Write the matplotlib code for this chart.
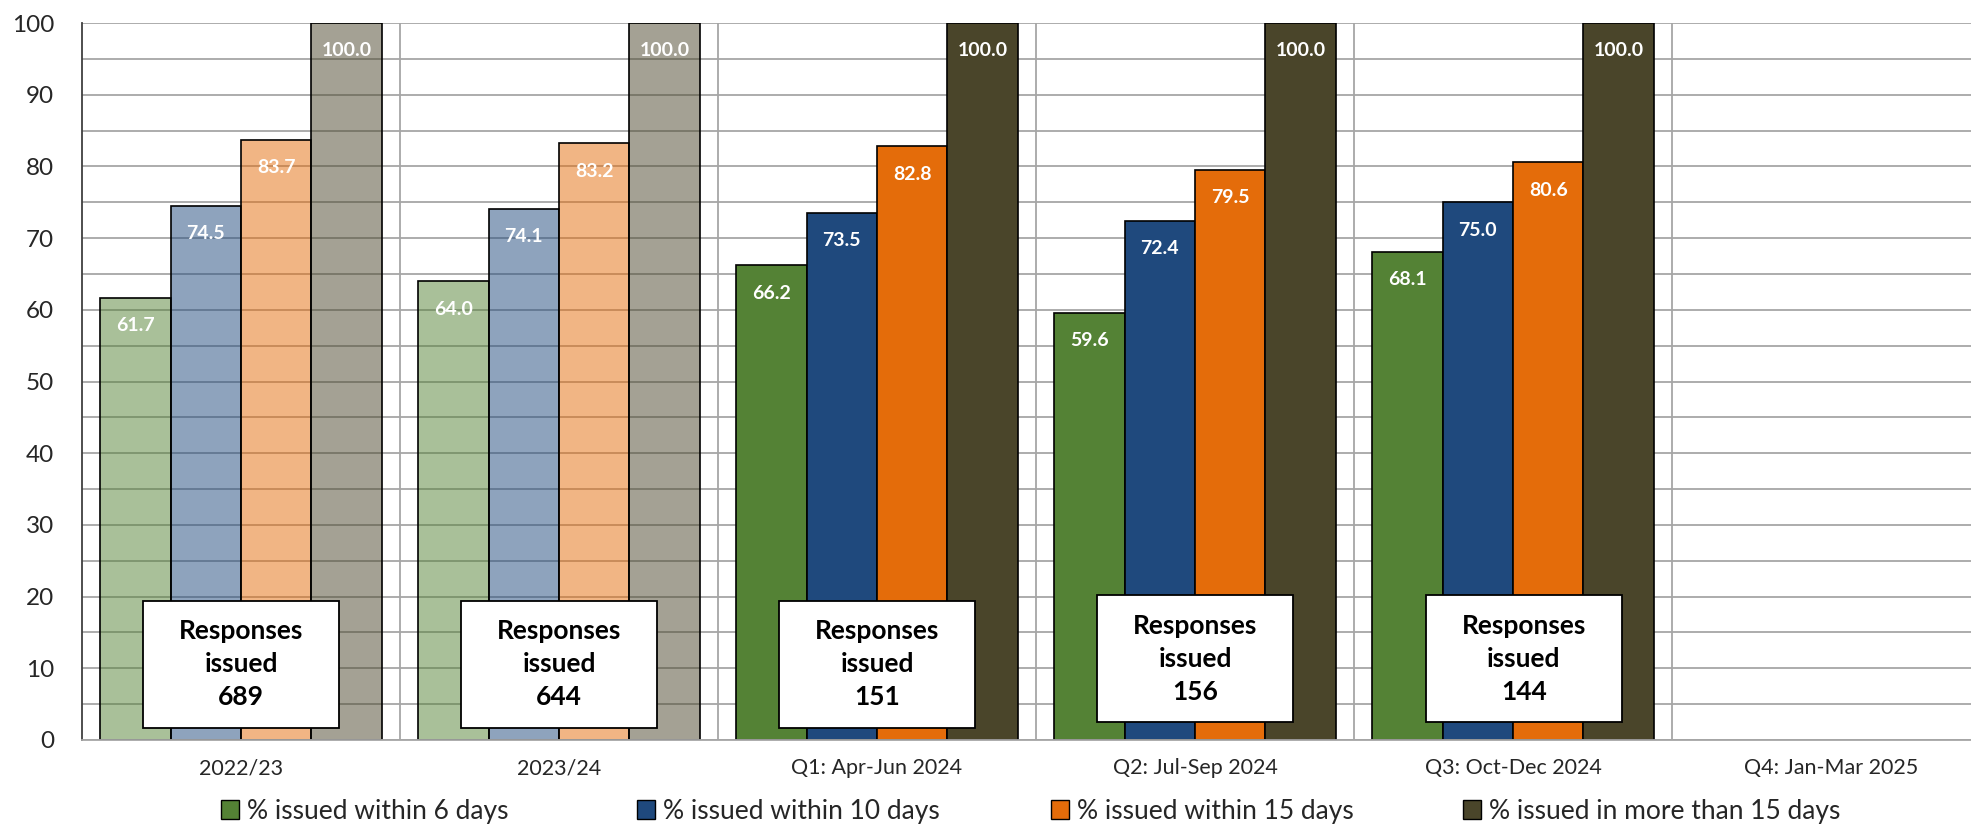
import numpy as np
import matplotlib
matplotlib.use("Agg")
import matplotlib.pyplot as plt
from matplotlib.patches import Rectangle, Patch
from matplotlib.colors import to_rgba

plt.rcParams['font.family'] = ['Lato', 'DejaVu Sans']

# data
categories = ['2022/23', '2023/24', 'Q1: Apr-Jun 2024', 'Q2: Jul-Sep 2024',
              'Q3: Oct-Dec 2024', 'Q4: Jan-Mar 2025']
series_names = ['% issued within 6 days', '% issued within 10 days',
                '% issued within 15 days', '% issued in more than 15 days']
within_6 = [61.7, 64.0, 66.2, 59.6, 68.1]
within_10 = [74.5, 74.1, 73.5, 72.4, 75.0]
within_15 = [83.7, 83.2, 82.8, 79.5, 80.6]
more_15 = [100.0, 100.0, 100.0, 100.0, 100.0]
responses = [689, 644, 151, 156, 144]
# full-year columns are drawn faded
faded = [True, True, False, False, False]

colors = ['#548235', '#1F497D', '#E46C0A', '#4A452A']

# layout of the "Responses issued" boxes (data units)
box_bottom = [1.7, 1.7, 1.7, 2.5, 2.5]
box_height = 17.7
box_width = 0.615
box_dx = [0, 0, 0, 0, 0.034]
# left edge of each legend entry, in figure pixels
legend_x = [221, 637, 1051, 1463]

W, H = 1971, 826
fig = plt.figure(figsize=(W / 100, H / 100), dpi=100)
ax = fig.add_axes([82 / W, 86 / H, 1908 / W, 717 / H])

series = [within_6, within_10, within_15, more_15]
bar_w = 0.221
x = np.arange(len(responses))
for k, vals in enumerate(series):
    xs = x + (k - 1.5) * bar_w
    for i, v in enumerate(vals):
        fc = to_rgba(colors[k], 0.5 if faded[i] else 1.0)
        ax.bar(xs[i], v, width=bar_w, facecolor=fc, edgecolor='black',
               linewidth=1.2, zorder=2)
        ax.text(xs[i], v - 3.9, f'{v:.1f}', ha='center', va='center',
                color='white', fontsize=14, fontweight='bold', zorder=3)

for i, n in enumerate(responses):
    cx = x[i] + box_dx[i]
    ax.add_patch(Rectangle((cx - box_width / 2, box_bottom[i]), box_width, box_height,
                           facecolor='white', edgecolor='black', linewidth=1.3, zorder=4))
    ax.text(cx, box_bottom[i] + box_height / 2, f'Responses\nissued\n{n}',
            ha='center', va='center', fontsize=19, fontweight='bold',
            linespacing=1.45, color='black', zorder=5)

ax.set_xlim(-0.5, len(categories) - 0.5)
ax.set_ylim(0, 100)
ax.set_xticks(np.arange(len(categories)))
ax.set_xticklabels(categories)
ax.set_xticks(np.arange(len(categories)) + 0.5, minor=True)
ax.set_yticks(np.arange(0, 101, 10))
ax.set_yticks(np.arange(0, 101, 5), minor=True)

ax.grid(axis='y', which='both', color='#A6A6A6', linewidth=1.3, zorder=0)
ax.grid(axis='x', which='minor', color='#A6A6A6', linewidth=1.3, zorder=0)
ax.set_axisbelow(True)

ax.tick_params(axis='both', which='both', length=0)
ax.tick_params(axis='y', labelsize=17.5, labelcolor='#262626', pad=20)
ax.tick_params(axis='x', labelsize=15.5, labelcolor='#262626', pad=13)

for s in ['top', 'right']:
    ax.spines[s].set_visible(False)
ax.spines['left'].set_color('#404040')
ax.spines['left'].set_linewidth(1.3)
ax.spines['bottom'].set_color('#A6A6A6')
ax.spines['bottom'].set_linewidth(1.3)

# one legend per entry so the entries sit in equal-width slots
for k, name in enumerate(series_names):
    h = Patch(facecolor=colors[k], edgecolor='black', linewidth=1.0)
    leg = fig.legend([h], [name], loc='center left',
                     bbox_to_anchor=(legend_x[k] / W, 0.018),
                     frameon=False, fontsize=19, handlelength=0.7, handleheight=0.7,
                     handletextpad=0.3, borderpad=0, borderaxespad=0,
                     labelcolor='#262626')

fig.savefig('out.png', dpi=100)
